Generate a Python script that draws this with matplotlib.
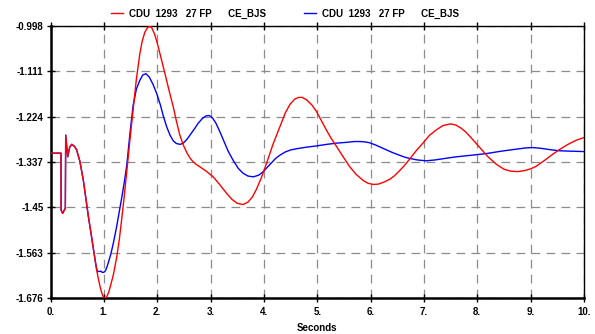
import matplotlib
matplotlib.use("Agg")
import matplotlib.pyplot as plt

plt.rcParams['font.family'] = ['Liberation Sans', 'DejaVu Sans']

red_t = [0.0, 0.197, 0.199, 0.228, 0.278, 0.285, 0.322, 0.36, 0.397, 0.45, 0.49, 0.55, 0.615,
         0.66, 0.71, 0.76, 0.80, 0.865, 0.90, 0.93, 0.96, 0.99, 1.02, 1.05, 1.09, 1.13, 1.18,
         1.24, 1.29, 1.33, 1.38, 1.43, 1.49, 1.55, 1.61, 1.676, 1.72, 1.77, 1.82, 1.863, 1.90,
         1.95, 2.00, 2.05, 2.11, 2.17, 2.23, 2.30, 2.36, 2.42, 2.49, 2.56, 2.62, 2.67, 2.73,
         2.80, 2.92, 3.05, 3.17, 3.30, 3.40, 3.50, 3.61, 3.70, 3.78, 3.86, 3.95, 4.05, 4.17,
         4.30, 4.40, 4.49, 4.58, 4.65, 4.72, 4.80, 4.90, 4.98, 5.07, 5.17, 5.26, 5.36, 5.48,
         5.61, 5.73, 5.86, 5.95, 6.05, 6.15, 6.25, 6.36, 6.45, 6.54, 6.64, 6.73, 6.86, 6.98,
         7.10, 7.23, 7.36, 7.50, 7.60, 7.70, 7.79, 7.90, 8.04, 8.20, 8.36, 8.50, 8.63, 8.76,
         8.90, 9.00, 9.10, 9.25, 9.40, 9.54, 9.70, 9.85, 10.0]
red_v = [-1.315, -1.315, -1.457, -1.465, -1.452, -1.270, -1.324, -1.300, -1.293, -1.298, -1.307, -1.335, -1.382,
         -1.425, -1.473, -1.515, -1.550, -1.606, -1.630, -1.648, -1.663, -1.673, -1.677, -1.674, -1.662, -1.643, -1.617,
         -1.575, -1.530, -1.485, -1.425, -1.360, -1.280, -1.205, -1.130, -1.066, -1.035, -1.013, -1.002, -0.999, -1.003,
         -1.018, -1.040, -1.066, -1.098, -1.130, -1.163, -1.199, -1.235, -1.268, -1.295, -1.315, -1.328, -1.336, -1.343,
         -1.349, -1.360, -1.374, -1.393, -1.415, -1.430, -1.440, -1.443, -1.437, -1.425, -1.405, -1.377, -1.340, -1.293,
         -1.249, -1.215, -1.193, -1.180, -1.176, -1.176, -1.182, -1.195, -1.210, -1.232, -1.257, -1.278, -1.298, -1.323,
         -1.349, -1.368, -1.383, -1.390, -1.393, -1.392, -1.387, -1.380, -1.371, -1.359, -1.345, -1.330, -1.308, -1.290,
         -1.271, -1.257, -1.246, -1.242, -1.245, -1.253, -1.263, -1.279, -1.300, -1.324, -1.343, -1.355, -1.360, -1.361,
         -1.358, -1.354, -1.348, -1.334, -1.319, -1.306, -1.293, -1.283, -1.276]

blue_t = [0.0, 0.197, 0.199, 0.228, 0.278, 0.285, 0.322, 0.36, 0.397, 0.45, 0.49, 0.55, 0.615,
          0.66, 0.71, 0.76, 0.80, 0.84, 0.865, 0.88, 0.91, 0.94, 0.97, 1.0, 1.03, 1.06, 1.09,
          1.13, 1.18, 1.24, 1.29, 1.33, 1.38, 1.43, 1.49, 1.55, 1.61, 1.676, 1.73, 1.79, 1.85,
          1.92, 1.99, 2.06, 2.12, 2.18, 2.24, 2.30, 2.36, 2.43, 2.49, 2.56, 2.63, 2.70, 2.77,
          2.85, 2.92, 2.97, 3.03, 3.10, 3.17, 3.25, 3.33, 3.42, 3.52, 3.61, 3.70, 3.80, 3.90,
          3.98, 4.05, 4.15, 4.22, 4.30, 4.40, 4.50, 4.61, 4.80, 4.98, 5.18, 5.36, 5.55, 5.70,
          5.80, 5.90, 5.98, 6.10, 6.20, 6.30, 6.42, 6.54, 6.64, 6.73, 6.88, 7.04, 7.20, 7.40,
          7.61, 7.90, 8.17, 8.45, 8.73, 8.90, 9.04, 9.20, 9.35, 9.54, 9.75, 10.0]
blue_v = [-1.315, -1.315, -1.457, -1.465, -1.452, -1.270, -1.324, -1.300, -1.293, -1.298, -1.307, -1.335, -1.382,
          -1.425, -1.473, -1.515, -1.550, -1.585, -1.603, -1.610, -1.610, -1.609, -1.612, -1.612, -1.608, -1.598, -1.585,
          -1.567, -1.538, -1.498, -1.460, -1.430, -1.390, -1.345, -1.265, -1.195, -1.155, -1.133, -1.120, -1.117, -1.125,
          -1.143, -1.166, -1.195, -1.225, -1.250, -1.270, -1.284, -1.291, -1.293, -1.290, -1.280, -1.267, -1.254, -1.240,
          -1.228, -1.222, -1.221, -1.226, -1.240, -1.260, -1.285, -1.310, -1.332, -1.353, -1.365, -1.372, -1.374, -1.370,
          -1.362, -1.352, -1.338, -1.328, -1.320, -1.312, -1.307, -1.304, -1.300, -1.297, -1.293, -1.290, -1.288, -1.286,
          -1.286, -1.287, -1.289, -1.295, -1.301, -1.307, -1.314, -1.320, -1.325, -1.328, -1.332, -1.334, -1.332, -1.328,
          -1.324, -1.320, -1.316, -1.310, -1.305, -1.302, -1.301, -1.303, -1.306, -1.309, -1.310, -1.311]

x_ticks = [0, 1, 2, 3, 4, 5, 6, 7, 8, 9, 10]
x_labels = ["0.", "1.", "2.", "3.", "4.", "5.", "6.", "7.", "8.", "9.", "10."]
y_ticks = [-0.998, -1.111, -1.224, -1.337, -1.45, -1.563, -1.676]
y_labels = ["-0.998", "-1.111", "-1.224", "-1.337", "-1.45", "-1.563", "-1.676"]
series_label = "CDU  1293   27 FP      CE_BJS"

fig = plt.figure(figsize=(5.95, 3.34), dpi=100)
ax = fig.add_axes([50.5/595, 1-298/334, (584-50.5)/595, (298-26)/334])

ax.plot(red_t, red_v, color='#ff0000', lw=1.0, label=series_label, zorder=3)
ax.plot(blue_t, blue_v, color='#0000ff', lw=1.0, label=series_label, zorder=2)

ax.set_xlim(0, 10)
ax.set_ylim(-1.676, -0.998)
ax.set_xticks(x_ticks)
ax.set_xticklabels(x_labels)
ax.set_yticks(y_ticks)
ax.set_yticklabels(y_labels)
ax.grid(True, color='#8c8c8c', linestyle=(0, (7, 5)), lw=0.9)
ax.tick_params(direction='inout', length=6, width=1, labelsize=7)
ax.tick_params(axis='y', pad=2)
ax.tick_params(top=True, right=False)
for lab in ax.get_xticklabels() + ax.get_yticklabels():
    lab.set_fontweight('bold')
ax.spines['left'].set_linewidth(1.8)
ax.spines['bottom'].set_linewidth(1.8)
ax.spines['top'].set_linewidth(1.0)
ax.spines['right'].set_linewidth(1.0)
ax.set_xlabel("Seconds", fontsize=7, fontweight='bold', labelpad=4)

fig.legend(loc='upper center', bbox_to_anchor=(285/595, 1.0), ncol=2, frameon=False,
           prop={'size': 7, 'weight': 'bold'}, handlelength=1.2, columnspacing=4.0,
           handletextpad=0.6)

fig.savefig("out.png", dpi=100)
